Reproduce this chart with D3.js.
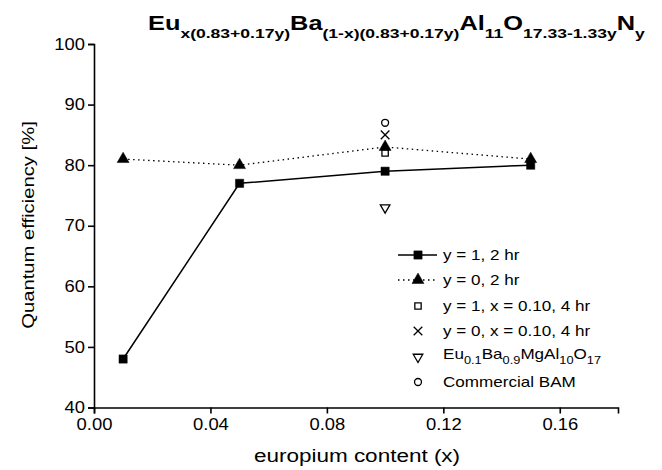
<html>
<head>
<meta charset="utf-8">
<script src="https://cdn.jsdelivr.net/npm/d3@7"></script>
<style>
body { margin: 0; background: #fff; }
text { font-family: "Liberation Sans", Arial, sans-serif; fill: #000; }
.axis path, .axis line { stroke: #000; stroke-width: 1.6; }
.axis text { font-size: 16px; }
</style>
</head>
<body>
<svg width="662" height="470"></svg>
<script>
// data
var euContent  = [0.01, 0.05, 0.10, 0.15];
var qeY1_2hr   = [48, 77, 79, 80];
var qeY0_2hr   = [81, 80, 83, 81];
var singleX    = 0.10;
var qeY1_4hr   = 82;
var qeY0_4hr   = 85;
var qeEuBaMg   = 73;
var qeBAM      = 87;
var xTicks     = [0, 0.04, 0.08, 0.12, 0.16];
var yTicks     = [40, 50, 60, 70, 80, 90, 100];

var svg = d3.select("svg");
var x = d3.scaleLinear().domain([0, 0.18]).range([94, 618]);
var y = d3.scaleLinear().domain([40, 100]).range([407.5, 44]);
var wide = 1.15;   // glyphs of the original are a bit wider than Arial

// axes
var gx = svg.append("g").attr("class", "axis").attr("transform", "translate(0," + y(40) + ")");
gx.call(d3.axisBottom(x).tickValues(d3.range(0, 0.1801, 0.02)).tickSize(4).tickFormat(""));
gx.call(d3.axisBottom(x).tickValues(xTicks).tickSize(6).tickSizeOuter(6).tickPadding(5).tickFormat(d3.format(".2f")));
gx.selectAll("text").attr("transform", "scale(" + wide + ",1)");

var gy = svg.append("g").attr("class", "axis").attr("transform", "translate(" + x(0) + ",0)");
gy.call(d3.axisLeft(y).tickValues(d3.range(45, 100, 10)).tickSize(4).tickFormat(""));
gy.call(d3.axisLeft(y).tickValues(yTicks).tickSize(6).tickSizeOuter(6).tickPadding(5).tickFormat(d3.format("d")));
gy.selectAll("text").attr("x", -9 / wide).attr("transform", "scale(" + wide + ",1)");
svg.selectAll(".axis .domain").attr("fill", "none");

// lines
var line = d3.line().x(function(d) { return x(d[0]); }).y(function(d) { return y(d[1]); });
svg.append("path").datum(d3.zip(euContent, qeY1_2hr)).attr("d", line)
   .attr("fill", "none").attr("stroke", "#000").attr("stroke-width", 1.5);
svg.append("path").datum(d3.zip(euContent, qeY0_2hr)).attr("d", line)
   .attr("fill", "none").attr("stroke", "#000").attr("stroke-width", 1.3).attr("stroke-dasharray", "1.5,3.5");

function sym(type, size, filled, rot) {
    return function(sel, px, py) {
        sel.append("path")
           .attr("d", d3.symbol().type(type).size(size)())
           .attr("transform", "translate(" + px + "," + py + ")" + (rot ? " rotate(" + rot + ")" : ""))
           .attr("fill", filled ? "#000" : "none")
           .attr("stroke", "#000")
           .attr("stroke-width", filled ? 0.5 : 1.3);
    };
}
var mSq    = sym(d3.symbolSquare, 68, true);
var mTri   = sym(d3.symbolTriangle, 62, true);
var mOSq   = sym(d3.symbolSquare, 40, false);
var mX     = sym(d3.symbolTimes, 50, false);
var mDTri  = sym(d3.symbolTriangle, 40, false, 180);
var mCirc  = sym(d3.symbolCircle, 38, false);

euContent.forEach(function(e, i) {
    mSq(svg, x(e), y(qeY1_2hr[i]));
    mTri(svg, x(e), y(qeY0_2hr[i]));
});
mOSq(svg, x(singleX), y(qeY1_4hr));
mX(svg, x(singleX), y(qeY0_4hr));
mDTri(svg, x(singleX), y(qeEuBaMg));
mCirc(svg, x(singleX), y(qeBAM));

// text helper: stretched horizontally around its anchor
function label(px, py, sx, rot) {
    return svg.append("g")
              .attr("transform", "translate(" + px + "," + py + ")" + (rot ? " rotate(" + rot + ")" : "") + " scale(" + sx + ",1)")
              .append("text");
}
function formula(t, parts, big, small, shift, weight) {
    t.attr("font-weight", weight);
    var lvl = 0;
    parts.forEach(function(p) {
        var s = p[1] ? shift : 0;
        t.append("tspan").attr("font-size", p[1] ? small : big)
         .attr("dy", s - lvl).text(p[0]);
        lvl = s;
    });
    return t;
}

// legend
var lgX = 418, lgText = 443;
var rows = [255, 280, 306, 331, 357, 382];
svg.append("line").attr("x1", 398).attr("x2", 437).attr("y1", rows[0]).attr("y2", rows[0])
   .attr("stroke", "#000").attr("stroke-width", 1.5);
mSq(svg, lgX, rows[0]);
svg.append("line").attr("x1", 398).attr("x2", 437).attr("y1", rows[1]).attr("y2", rows[1])
   .attr("stroke", "#000").attr("stroke-width", 1.3).attr("stroke-dasharray", "1.5,3.5");
mTri(svg, lgX, rows[1]);
mOSq(svg, lgX, rows[2]);
mX(svg, lgX, rows[3]);
mDTri(svg, lgX, rows[4]);
mCirc(svg, lgX, rows[5]);

var lgLabels = ["y = 1, 2 hr", "y = 0, 2 hr", "y = 1, x = 0.10, 4 hr", "y = 0, x = 0.10, 4 hr", null, "Commercial BAM"];
lgLabels.forEach(function(t, i) {
    if (t) label(lgText, rows[i] + 5, 1.22).attr("font-size", 14).text(t);
});
formula(label(lgText, rows[4] + 2, 1.22),
        [["Eu", 0], ["0.1", 1], ["Ba", 0], ["0.9", 1], ["MgAl", 0], ["10", 1], ["O", 0], ["17", 1]], 14, 10.5, 5, "normal");

// title
formula(label(148, 30, 1.3),
        [["Eu", 0], ["x(0.83+0.17y)", 1], ["Ba", 0], ["(1-x)(0.83+0.17y)", 1], ["Al", 0], ["11", 1], ["O", 0], ["17.33-1.33y", 1], ["N", 0], ["y", 1]],
        19.5, 13.5, 8, "bold");

// axis titles
label(357, 462, 1.25).attr("text-anchor", "middle").attr("font-size", 18).text("europium content (x)");
label(34, 225, 1.19, -90).attr("text-anchor", "middle").attr("font-size", 17).text("Quantum efficiency [%]");
</script>
</body>
</html>
